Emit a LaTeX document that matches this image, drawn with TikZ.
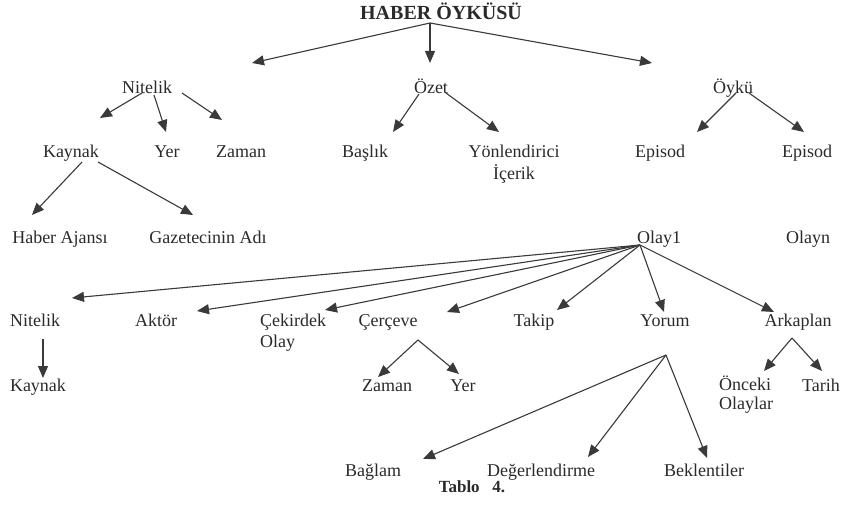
\documentclass[tikz,border=0pt]{standalone}
\usepackage{fontspec}
\setmainfont{Liberation Serif}
\usetikzlibrary{arrows.meta}
\definecolor{ink}{HTML}{2A2A2A}
\definecolor{lineink}{HTML}{3A3A3A}
\begin{document}
\begin{tikzpicture}[x=1pt,y=-1pt,
  lbl/.style={inner sep=0pt,text=ink,font=\fontsize{18}{21}\selectfont,anchor=base},
  lbl2/.style={lbl,align=center},
  lbll/.style={lbl,align=left,anchor=base west},
  ttl/.style={inner sep=0pt,text=ink,font=\fontsize{20}{24}\selectfont\bfseries,anchor=base},
  arr/.style={draw=lineink,line width=1.1pt,-{Triangle[length=12pt,width=10pt]}}]
\useasboundingbox (0,0) rectangle (848,505);
\fill[white] (0,0) rectangle (848,505);
% nodes (positions are baselines of the last text line)
\node[ttl] (title) at (441,20) {HABER ÖYKÜSÜ};
\node[lbl] (nitA) at (147,94) {Nitelik};
\node[lbl] (ozet) at (431,94) {Özet};
\node[lbl] (oyku) at (733,94) {Öykü};
\node[lbl] (kayA) at (71,158) {Kaynak};
\node[lbl] (yerA) at (167,158) {Yer};
\node[lbl] (zamA) at (241,158) {Zaman};
\node[lbl] (baslik) at (365,158) {Başlık};
\node[lbl2] (yon) at (514,179) {Yönlendirici\\İçerik};
\node[lbl] (ep1) at (660,158) {Episod};
\node[lbl] (ep2) at (807,158) {Episod};
\node[lbl] (haber) at (60,243) {Haber Ajansı};
\node[lbl] (gaz) at (208,243) {Gazetecinin Adı};
\node[lbl] (olay1) at (659,243) {Olay1};
\node[lbl] (olayn) at (808,243) {Olayn};
\node[lbl] (nitB) at (35,326) {Nitelik};
\node[lbl] (aktor) at (156,326) {Aktör};
\node[lbll] (cek) at (260,347) {Çekirdek\\Olay};
\node[lbl] (cerc) at (388,326) {Çerçeve};
\node[lbl] (takip) at (534,326) {Takip};
\node[lbl] (yorum) at (665,326) {Yorum};
\node[lbl] (arka) at (798,326) {Arkaplan};
\node[lbl] (kayB) at (38,391) {Kaynak};
\node[lbl] (zamB) at (387,391) {Zaman};
\node[lbl] (yerB) at (463,391) {Yer};
\node[lbll,font=\fontsize{18}{19}\selectfont] (onceki) at (719,409) {Önceki\\Olaylar};
\node[lbl] (tarih) at (821,391) {Tarih};
\node[lbl] (baglam) at (373,476) {Bağlam};
\node[lbl] (deger) at (541,476) {Değerlendirme};
\node[lbl] (bekl) at (704,476) {Beklentiler};
\node[ttl,font=\fontsize{17}{20}\selectfont\bfseries] (tablo) at (472,492) {Tablo\hspace{0.5em} 4.};
% apex coordinates
\coordinate (tA) at (430,23);
\coordinate (oA) at (640,245);
\coordinate (cA) at (418,340);
\coordinate (aA) at (792,338);
\coordinate (yA) at (666,355);
% tips
\coordinate (tNit) at (252,63);
\coordinate (tOzet) at (430,63);
\coordinate (tOyku) at (652,63);
\coordinate (tKayA) at (100,118);
\coordinate (tYerA) at (166,132);
\coordinate (tZamA) at (222,120);
\coordinate (tBaslik) at (393,132);
\coordinate (tYon) at (499,132);
\coordinate (tEp1) at (697,132);
\coordinate (tEp2) at (804,132);
\coordinate (tHaber) at (32,215);
\coordinate (tGaz) at (193,215);
\coordinate (tNitB) at (72,298);
\coordinate (tAktor) at (197,311);
\coordinate (tCek) at (325,310);
\coordinate (tCerc) at (447,312);
\coordinate (tTakip) at (557,310);
\coordinate (tYorum) at (664,312);
\coordinate (tArka) at (774,312);
\coordinate (tKayB) at (43,378);
\coordinate (tZamB) at (378,377);
\coordinate (tYerB) at (459,374);
\coordinate (tOnceki) at (764,371);
\coordinate (tTarih) at (822,371);
\coordinate (tBaglam) at (423,459);
\coordinate (tDeger) at (588,457);
\coordinate (tBekl) at (707,458);
% connectors
\draw[arr] (tA) -- (tNit);
\draw[arr] (tA) -- (tOzet);
\draw[arr] (tA) -- (tOyku);
\draw[arr] (142,93) -- (tKayA);
\draw[arr] (154,95) -- (tYerA);
\draw[arr] (182,93) -- (tZamA);
\draw[arr] (419,94) -- (tBaslik);
\draw[arr] (446,93) -- (tYon);
\draw[arr] (736,93) -- (tEp1);
\draw[arr] (749,93) -- (tEp2);
\draw[arr] (82,162) -- (tHaber);
\draw[arr] (98,162) -- (tGaz);
\draw[arr] (oA) -- (tNitB);
\draw[arr] (oA) -- (tAktor);
\draw[arr] (oA) -- (tCek);
\draw[arr] (oA) -- (tCerc);
\draw[arr] (oA) -- (tTakip);
\draw[arr] (oA) -- (tYorum);
\draw[arr] (oA) -- (tArka);
\draw[arr] (43,339) -- (tKayB);
\draw[arr] (cA) -- (tZamB);
\draw[arr] (cA) -- (tYerB);
\draw[arr] (aA) -- (tOnceki);
\draw[arr] (aA) -- (tTarih);
\draw[arr] (yA) -- (tBaglam);
\draw[arr] (yA) -- (tDeger);
\draw[arr] (yA) -- (tBekl);
\end{tikzpicture}
\end{document}
